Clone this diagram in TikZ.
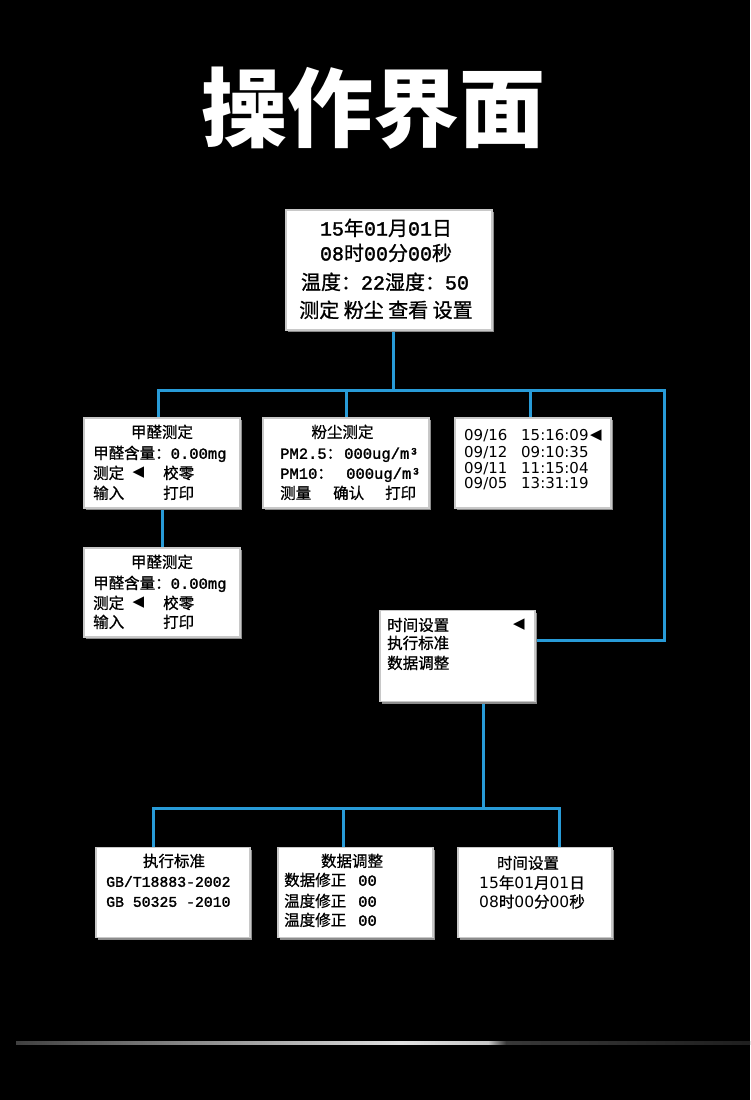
\documentclass[tikz,border=0pt]{standalone}
\usepackage{fontspec}
\setmainfont{Noto Sans CJK SC}[FakeBold=0.9]
\newfontfamily\mo{Liberation Mono}[FakeBold=1.6]
\newfontfamily\dv{DejaVu Sans}
\newfontfamily\titlefont{Noto Sans CJK SC}
\usetikzlibrary{shadows,backgrounds}
\definecolor{wireblue}{RGB}{40,155,215}
\definecolor{bordergray}{RGB}{200,200,200}
\tikzset{
  box/.style={draw=bordergray, line width=1.5pt, fill=white, inner sep=0pt,
    drop shadow={shadow xshift=2pt, shadow yshift=-2pt, fill=black!45, opacity=1}},
  wire/.style={draw=wireblue, line width=3pt},
  txt/.style={inner sep=0pt, anchor=base, text=black},
  txtl/.style={txt, anchor=base west},
  arrowtxt/.style={inner sep=0pt, anchor=center, text=black, font=\dv\fontsize{15}{18}\selectfont},
  big/.style={font=\fontsize{20}{24}\selectfont},
  mid/.style={font=\fontsize{15.5}{18}\selectfont},
  sans/.style={font=\dv\fontsize{15}{18}\selectfont},
}
\begin{document}
\begin{tikzpicture}[x=1pt,y=-1pt]
\useasboundingbox (0,0) rectangle (750,1100);

% title
\node[txt, text=white, font=\titlefont\fontsize{86}{90}\selectfont\bfseries] (title) at (373,140) {操作界面};

% boxes
\node[box, minimum width=206pt, minimum height=120pt] (top)  at (389,270) {};
\node[box, minimum width=156pt, minimum height=90pt]  (b1)   at (162,463) {};
\node[box, minimum width=166pt, minimum height=90pt]  (pm)   at (346,463) {};
\node[box, minimum width=156pt, minimum height=90pt]  (hist) at (533,463) {};
\node[box, minimum width=156pt, minimum height=89pt]  (b5)   at (162,592.5) {};
\node[box, minimum width=155pt, minimum height=91pt]  (set)  at (457.5,656) {};
\node[box, minimum width=154pt, minimum height=90pt]  (std)  at (173,892.5) {};
\node[box, minimum width=155pt, minimum height=90pt]  (dat)  at (355.5,892.5) {};
\node[box, minimum width=154pt, minimum height=90pt]  (tim)  at (535,892.5) {};

% top box text
\node[txt, big] (t1) at (386,235.5) {{\mo 15}年{\mo 01}月{\mo 01}日};
\node[txt, big] (t2) at (386,260.5) {{\mo 08}时{\mo 00}分{\mo 00}秒};
\node[txt, big] (t3) at (385,289.5) {温度：{\mo 22}湿度：{\mo 50}};
\node[txt, big] (t4) at (386,317.5) {测定 粉尘 查看 设置};

% formaldehyde box 1
\node[txt, mid]  (b1a) at (162,437.8) {甲醛测定};
\node[txtl, mid] (b1b) at (93,458.8) {甲醛含量：{\mo 0.00mg}};
\node[txtl, mid] (b1c) at (93,478.8) {测定};
\node[arrowtxt]  (b1d) at (138.5,473) {◀};
\node[txtl, mid] (b1e) at (163,478.8) {校零};
\node[txtl, mid] (b1f) at (93,498.8) {输入};
\node[txtl, mid] (b1g) at (163,498.8) {打印};

% formaldehyde box 2
\node[txt, mid]  (b5a) at (162,567.8) {甲醛测定};
\node[txtl, mid] (b5b) at (93,588.8) {甲醛含量：{\mo 0.00mg}};
\node[txtl, mid] (b5c) at (93,608.8) {测定};
\node[arrowtxt]  (b5d) at (138.5,603) {◀};
\node[txtl, mid] (b5e) at (163,608.8) {校零};
\node[txtl, mid] (b5f) at (93,627.8) {输入};
\node[txtl, mid] (b5g) at (163,627.8) {打印};

% dust box
\node[txt, mid]  (pma) at (342.5,437.8) {粉尘测定};
\node[txtl, mid] (pmb) at (280,458.8) {{\mo PM2.5}：};
\node[txtl, mid] (pmc) at (344,458.8) {{\mo 000ug/m³}};
\node[txtl, mid] (pmd) at (280,478.8) {{\mo PM10}：};
\node[txtl, mid] (pme) at (346,478.8) {{\mo 000ug/m³}};
\node[txtl, mid] (pmf) at (280,498.8) {测量};
\node[txtl, mid] (pmg) at (333,498.8) {确认};
\node[txtl, mid] (pmh) at (385,498.8) {打印};

% history box
\node[txtl, sans] (h1a) at (464,440.5) {09/16};
\node[txtl, sans] (h1b) at (521,440.5) {15:16:09};
\node[arrowtxt]   (h1c) at (596,436) {◀};
\node[txtl, sans] (h2a) at (464,457.5) {09/12};
\node[txtl, sans] (h2b) at (521,457.5) {09:10:35};
\node[txtl, sans] (h3a) at (464,473.5) {09/11};
\node[txtl, sans] (h3b) at (521,473.5) {11:15:04};
\node[txtl, sans] (h4a) at (464,488.5) {09/05};
\node[txtl, sans] (h4b) at (521,488.5) {13:31:19};

% settings box
\node[txtl, mid] (s1) at (387,630.8) {时间设置};
\node[arrowtxt]  (s1a) at (519,625) {◀};
\node[txtl, mid] (s2) at (387,648.8) {执行标准};
\node[txtl, mid] (s3) at (387,668.8) {数据调整};

% standard box
\node[txt, mid]  (sta) at (174,866.8) {执行标准};
\node[txtl, font=\mo\fontsize{14.8}{18}\selectfont] (stb) at (106,886.8) {GB/T18883-2002};
\node[txtl, font=\mo\fontsize{14.8}{18}\selectfont] (stc) at (106,906.8) {GB 50325 -2010};

% data adjust box
\node[txt, mid]  (da) at (352,866.8) {数据调整};
\node[txtl, mid] (db) at (284,885.8) {数据修正};
\node[txtl, mid] (dc) at (358,885.8) {{\mo 00}};
\node[txtl, mid] (dd) at (284,906.8) {温度修正};
\node[txtl, mid] (de) at (358,906.8) {{\mo 00}};
\node[txtl, mid] (df) at (284,925.8) {温度修正};
\node[txtl, mid] (dg) at (358,925.8) {{\mo 00}};

% time setting box
\node[txt, mid] (ta) at (528,868.8) {时间设置};
\node[txt, mid] (tb) at (532,888.5) {{\dv 15}年{\dv 01}月{\dv 01}日};
\node[txt, mid] (tc) at (532,907.5) {{\dv 08}时{\dv 00}分{\dv 00}秒};

\begin{pgfonlayer}{background}
  \fill[black] (0,0) rectangle (750,1100);
  % connectors
  \coordinate (busA) at (393,390);
  \coordinate (busAL) at (158,390);
  \coordinate (busAR) at (664,390);
  \coordinate (setR) at (664,640);
  \coordinate (hx) at (530,390);
  \draw[wire] (top.south -| busA) -- (busA);
  \draw[wire] (busAL |- b1.north) -- (busAL) -- (busAR) -- (setR) -- (set.east |- setR);
  \draw[wire] (pm.north |- busA) -- (pm.north);
  \draw[wire] (hx) -- (hx |- hist.north);
  \draw[wire] (b1.south) -- (b5.north);
  \coordinate (busB) at (483,808);
  \coordinate (busBL) at (153,808);
  \coordinate (busBM) at (343,808);
  \coordinate (busBR) at (559,808);
  \draw[wire] (set.south -| busB) -- (busB);
  \draw[wire] (busBL |- std.north) -- (busBL) -- (busBR) -- (busBR |- tim.north);
  \draw[wire] (busBM) -- (busBM |- dat.north);
  % bottom gradient line
  \shade[left color=black!75, right color=black!12] (16,1041) rectangle (400,1044.5);
  \shade[left color=black!12, right color=black!22] (400,1041) rectangle (488,1044.5);
  \shade[left color=black!22, right color=black!78] (488,1041) rectangle (506,1044.5);
  \shade[left color=black!78, right color=black!88] (506,1041) rectangle (750,1044.5);
\end{pgfonlayer}
\end{tikzpicture}
\end{document}
